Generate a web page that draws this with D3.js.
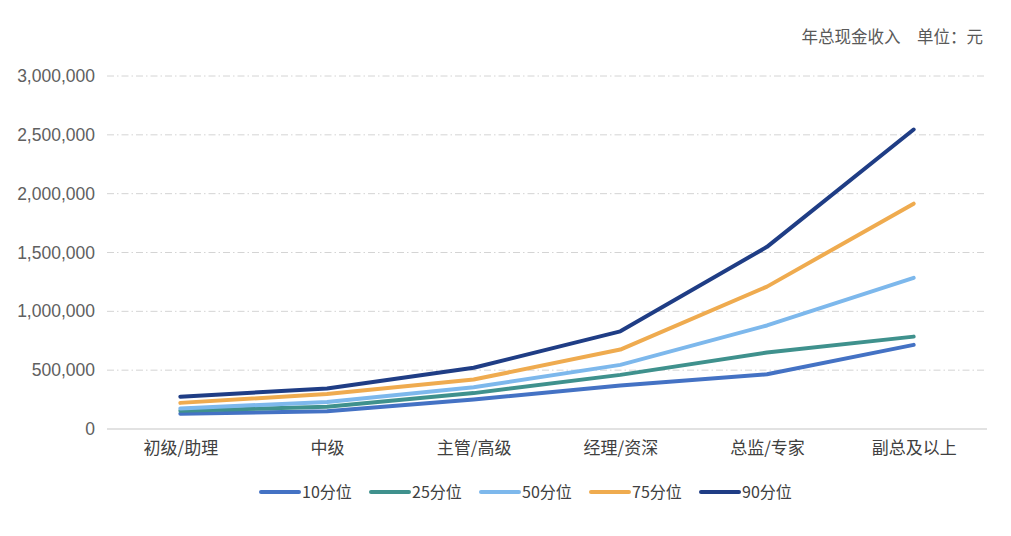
<!DOCTYPE html>
<html>
<head>
<meta charset="utf-8">
<script src="https://cdn.jsdelivr.net/npm/d3@7"></script>
<style>
  html, body { margin: 0; padding: 0; background: #fff; }
  svg { display: block; }
  text { font-family: "Noto Sans CJK SC", "Noto Sans", sans-serif; }
</style>
</head>
<body>
<svg id="chart" width="1011" height="536"></svg>
<script>
const categories = ["初级/助理", "中级", "主管/高级", "经理/资深", "总监/专家", "副总及以上"];
const seriesNames = ["10分位", "25分位", "50分位", "75分位", "90分位"];
const p10 = [130000, 150000, 250000, 370000, 465000, 715000];
const p25 = [155000, 190000, 305000, 460000, 650000, 785000];
const p50 = [175000, 230000, 355000, 545000, 880000, 1285000];
const p75 = [222000, 297000, 420000, 675000, 1210000, 1915000];
const p90 = [275000, 345000, 520000, 830000, 1548000, 2545000];
const yTicks = [0, 500000, 1000000, 1500000, 2000000, 2500000, 3000000];
const colors = ["#4472c4", "#3f918d", "#7db8ec", "#efab4f", "#1f3d85"];
const unitText = "年总现金收入　单位：元";

const seriesValues = [p10, p25, p50, p75, p90];

const svg = d3.select("#chart");
const plotL = 107, plotR = 987, plotT = 76, plotB = 429;

const x = d3.scalePoint().domain(categories).range([plotL, plotR]).padding(0.5);
const y = d3.scaleLinear().domain([0, 3000000]).range([plotB, plotT]);

// gridlines
svg.append("g").selectAll("line")
  .data(yTicks.filter(d => d > 0))
  .join("line")
  .attr("x1", plotL).attr("x2", plotR)
  .attr("y1", d => y(d)).attr("y2", d => y(d))
  .attr("stroke", "#d4d4d4")
  .attr("stroke-width", 1)
  .attr("stroke-dasharray", "7,3,1.5,3");

// baseline axis
svg.append("line")
  .attr("x1", plotL).attr("x2", plotR)
  .attr("y1", y(0)).attr("y2", y(0))
  .attr("stroke", "#d9d9d9").attr("stroke-width", 1.5);

// y axis
const yAxis = d3.axisLeft(y).tickValues(yTicks).tickSize(0).tickPadding(12)
  .tickFormat(d3.format(","));
const yg = svg.append("g").attr("transform", `translate(${plotL},0)`).call(yAxis);
yg.select(".domain").remove();
yg.selectAll("text")
  .attr("fill", "#606060")
  .style("font-family", "'Liberation Sans', Arial, sans-serif")
  .style("font-size", "17.5px");

// x axis
const xAxis = d3.axisBottom(x).tickSize(0).tickPadding(13);
const xg = svg.append("g").attr("transform", `translate(0,${plotB})`).call(xAxis);
xg.select(".domain").remove();
xg.selectAll("text")
  .attr("fill", "#404040")
  .style("font-size", "17px");

// lines
const line = d3.line()
  .x((d, i) => x(categories[i]))
  .y(d => y(d));

svg.append("g").selectAll("path")
  .data(seriesValues)
  .join("path")
  .attr("d", d => line(d))
  .attr("fill", "none")
  .attr("stroke", (d, i) => colors[i])
  .attr("stroke-width", 4)
  .attr("stroke-linecap", "round")
  .attr("stroke-linejoin", "round");

// legend
const legendX = [261, 371, 481, 591, 701];
const lg = svg.append("g").selectAll("g")
  .data(seriesNames)
  .join("g")
  .attr("transform", (d, i) => `translate(${legendX[i]},492)`);
lg.append("line")
  .attr("x1", 0).attr("x2", 38).attr("y1", 0).attr("y2", 0)
  .attr("stroke", (d, i) => colors[i])
  .attr("stroke-width", 4)
  .attr("stroke-linecap", "round");
lg.append("text")
  .attr("x", 41).attr("y", 0)
  .attr("dy", "0.36em")
  .attr("fill", "#404040")
  .style("font-size", "16px")
  .text(d => d);

// unit label
svg.append("text")
  .attr("x", 983).attr("y", 37)
  .attr("dy", "0.36em")
  .attr("text-anchor", "end")
  .attr("fill", "#595959")
  .style("font-size", "16.5px")
  .text(unitText);
</script>
</body>
</html>
